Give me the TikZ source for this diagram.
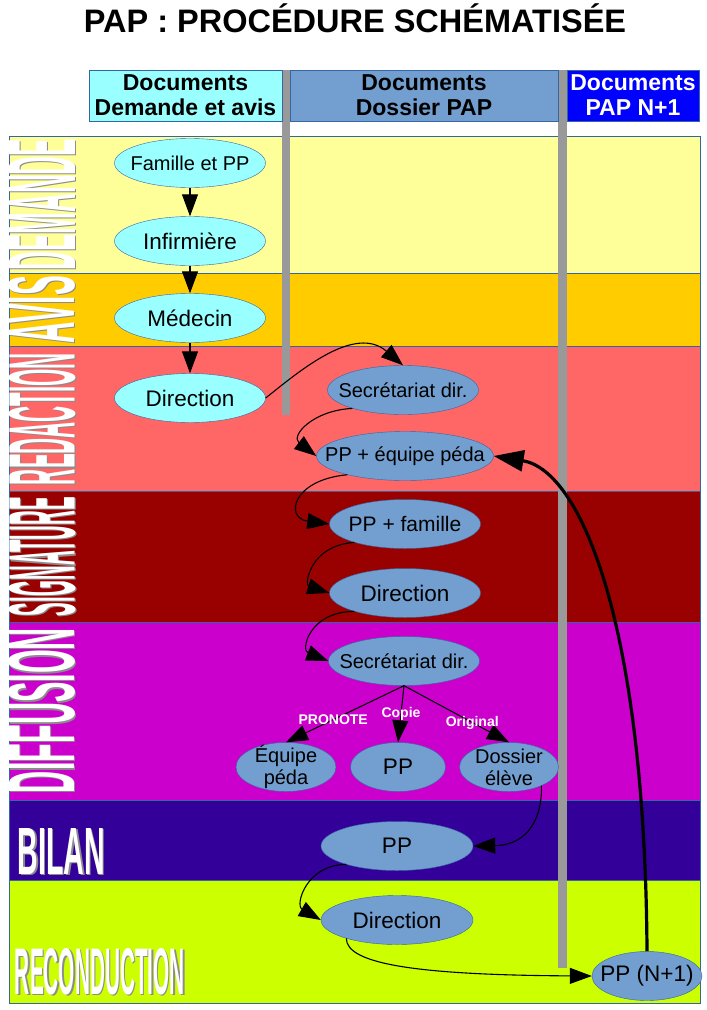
\documentclass[tikz,border=0pt]{standalone}
\usepackage{fontspec}
\setmainfont{Liberation Sans}
\usepackage{graphicx}
\usepackage{tikz}
\usetikzlibrary{arrows.meta}
\usetikzlibrary{shapes}
\definecolor{demandeYellow}{HTML}{FFFF99}
\definecolor{avisOrange}{HTML}{FFCC00}
\definecolor{redactionRed}{HTML}{FF6666}
\definecolor{signatureRed}{HTML}{990000}
\definecolor{diffusionPink}{HTML}{CC00CC}
\definecolor{bilanIndigo}{HTML}{330099}
\definecolor{reconductionLime}{HTML}{CCFF00}
\definecolor{paleCyan}{HTML}{99FFFF}
\definecolor{fileBlue}{HTML}{729FCF}
\definecolor{papBlue}{HTML}{0000FF}
\definecolor{outlineBlue}{HTML}{3465A4}
\definecolor{barGray}{HTML}{999999}

\begin{document}
\begin{tikzpicture}[x=1pt,y=-1pt]
\tikzset{HeadBox/.style={
  draw=outlineBlue,
  rectangle,
  align=center,
  minimum height=51pt,
  inner sep=1pt,
  font=\bfseries\fontsize{23}{25}\selectfont,
}}
\tikzset{ReqNode/.style={
  ellipse,
  draw=outlineBlue,
  fill=paleCyan,
  align=center,
  minimum width=151pt,
  minimum height=49pt,
  inner xsep=-20pt,
  inner ysep=-8pt,
  font=\fontsize{20}{22}\selectfont,
}}
\tikzset{FileNode/.style={ReqNode, fill=fileBlue}}
\tikzset{BigText/.style={font=\fontsize{22.5}{24}\selectfont}}
\tikzset{BandLabel/.style={inner sep=0pt, text=white}}
\tikzset{BandShadow/.style={inner sep=0pt, text=black!45}}
\tikzset{StepArrow/.style={draw, line width=1.1pt, -{Triangle[length=22pt,width=16pt]}}}
\tikzset{ReturnArrow/.style={draw, line width=3.2pt, -{Triangle[length=30pt,width=21pt]}}}
\tikzset{Channel/.style={inner sep=0pt, text=white, font=\bfseries\fontsize{14}{16}\selectfont}}

\useasboundingbox (0,0) rectangle (707,1010);
\fill[white] (0,0) rectangle (707,1010);

% bands
\draw[outlineBlue, fill=demandeYellow] (9,136) rectangle (700,273);
\draw[outlineBlue, fill=avisOrange] (9,273) rectangle (700,346);
\draw[outlineBlue, fill=redactionRed] (9,346) rectangle (700,491);
\draw[outlineBlue, fill=signatureRed] (9,491) rectangle (700,622);
\draw[outlineBlue, fill=diffusionPink] (9,622) rectangle (700,800);
\draw[outlineBlue, fill=bilanIndigo] (9,800) rectangle (700,880);
\draw[outlineBlue, fill=reconductionLime] (9,880) rectangle (700,1003);

\fill[barGray] (282,70) rectangle (290,415);
\fill[barGray] (558,70) rectangle (567,968);

\node[font=\bfseries\fontsize{32.5}{36}\selectfont, anchor=base] (titre) at (355,32.5) {PAP : PROCÉDURE SCHÉMATISÉE};

\node[HeadBox, fill=paleCyan, minimum width=193pt] (hdrdemande) at (185.5,95.5) {Documents\\Demande et avis};
\node[HeadBox, fill=fileBlue, minimum width=268pt] (hdrdossier) at (424,95.5) {Documents\\Dossier PAP};
\node[HeadBox, fill=papBlue, text=white, minimum width=132pt] (hdrnext) at (633,95.5) {Documents\\PAP N+1};

% band names
\node[BandShadow, rotate=90] (demandeombre) at (43.2,205.7) {\resizebox{131pt}{66pt}{\bfseries DEMANDE}};
\node[BandLabel, rotate=90] (demande) at (42,204.5) {\resizebox{131pt}{66pt}{\bfseries DEMANDE}};
\node[BandShadow, rotate=90] (avisombre) at (43.2,310.7) {\resizebox{67pt}{66pt}{\bfseries AVIS}};
\node[BandLabel, rotate=90] (avis) at (42,309.5) {\resizebox{67pt}{66pt}{\bfseries AVIS}};
\node[BandShadow, rotate=90] (redactionombre) at (43.2,420.2) {\resizebox{132pt}{66pt}{\bfseries REDACTION}};
\node[BandLabel, rotate=90] (redaction) at (42,419) {\resizebox{132pt}{66pt}{\bfseries REDACTION}};
\node[BandShadow, rotate=90] (signatureombre) at (43.2,557.7) {\resizebox{119pt}{66pt}{\bfseries SIGNATURE}};
\node[BandLabel, rotate=90] (signature) at (42,556.5) {\resizebox{119pt}{66pt}{\bfseries SIGNATURE}};
\node[BandShadow, rotate=90] (diffusionombre) at (43.2,711.7) {\resizebox{165pt}{66pt}{\bfseries DIFFUSION}};
\node[BandLabel, rotate=90] (diffusion) at (42,710.5) {\resizebox{165pt}{66pt}{\bfseries DIFFUSION}};
\node[BandShadow] (bilanombre) at (62.7,852.2) {\resizebox{87pt}{46pt}{\bfseries BILAN}};
\node[BandLabel] (bilan) at (61.5,851) {\resizebox{87pt}{46pt}{\bfseries BILAN}};
\node[BandShadow] (reconductionombre) at (101.2,973.2) {\resizebox{170pt}{46pt}{\bfseries RECONDUCTION}};
\node[BandLabel] (reconduction) at (100,972) {\resizebox{170pt}{46pt}{\bfseries RECONDUCTION}};

% demande et avis
\node[ReqNode] (famille) at (190,163) {Famille et PP};
\node[ReqNode, BigText] (infirmiere) at (190,241) {Infirmière};
\node[ReqNode, BigText] (medecin) at (190,318) {Médecin};
\node[ReqNode, BigText] (directionavis) at (190,398) {Direction};

% dossier PAP
\node[FileNode] (secretariat) at (403,390) {Secrétariat dir.};
\node[FileNode, minimum width=177pt] (ppequipe) at (405,456) {PP + équipe péda};
\node[FileNode, font=\fontsize{21}{23}\selectfont] (ppfamille) at (405,524) {PP + famille};
\node[FileNode, BigText] (directionsign) at (405,593) {Direction};
\node[FileNode] (secretariatdiff) at (404,661) {Secrétariat dir.};
\node[FileNode, minimum width=100pt] (equipepeda) at (286,767) {Équipe\\péda};
\node[FileNode, BigText, minimum width=95pt] (ppcopie) at (398,767) {PP};
\node[FileNode, minimum width=99pt] (dossiereleve) at (509,767) {Dossier\\élève};
\node[FileNode, BigText, minimum width=152pt] (ppbilan) at (397,846) {PP};
\node[FileNode, BigText, minimum width=152pt] (directionrecond) at (397,920) {Direction};
\node[FileNode, BigText, minimum width=110pt] (ppnext) at (647,976) {PP (N+1)};

\draw[StepArrow] (famille) -- (infirmiere);
\draw[StepArrow] (infirmiere) -- (medecin);
\draw[StepArrow] (medecin) -- (directionavis);
\draw[StepArrow] (directionavis.east) .. controls +(35,-28) and +(-48,-41) .. (secretariat.north);
\draw[StepArrow] (secretariat.200) .. controls +(-40,2) and +(-26,-20) .. (ppequipe.west);
\draw[StepArrow] (ppequipe.198) .. controls +(-55,5) and +(-45,-6) .. (ppfamille.west);
\draw[StepArrow] (ppfamille.200) .. controls +(-45,3) and +(-25,-8) .. (directionsign.west);
\draw[StepArrow] (directionsign.200) .. controls +(-45,0) and +(-28,-11) .. (secretariatdiff.west);
\draw[StepArrow] (secretariatdiff.south) -- node[Channel, pos=.6] {PRONOTE} (equipepeda.north);
\draw[StepArrow] (secretariatdiff.south) -- node[Channel, pos=.5] {Copie} (ppcopie.north);
\draw[StepArrow] (secretariatdiff.south) -- node[Channel, pos=.65] {Original} (dossiereleve.north);
\draw[StepArrow] (dossiereleve.-30) .. controls +(1,29) and +(57,-1) .. (ppbilan.east);
\draw[StepArrow] (ppbilan.200) .. controls +(-40,0) and +(-26,-15) .. (directionrecond.west);
\draw[StepArrow] (directionrecond.200) .. controls +(0,26) and +(-172,-1) .. (ppnext.west);
\draw[ReturnArrow] (ppnext.north) .. controls +(-2,-331) and +(86.5,14) .. (ppequipe.east);
\end{tikzpicture}
\end{document}
